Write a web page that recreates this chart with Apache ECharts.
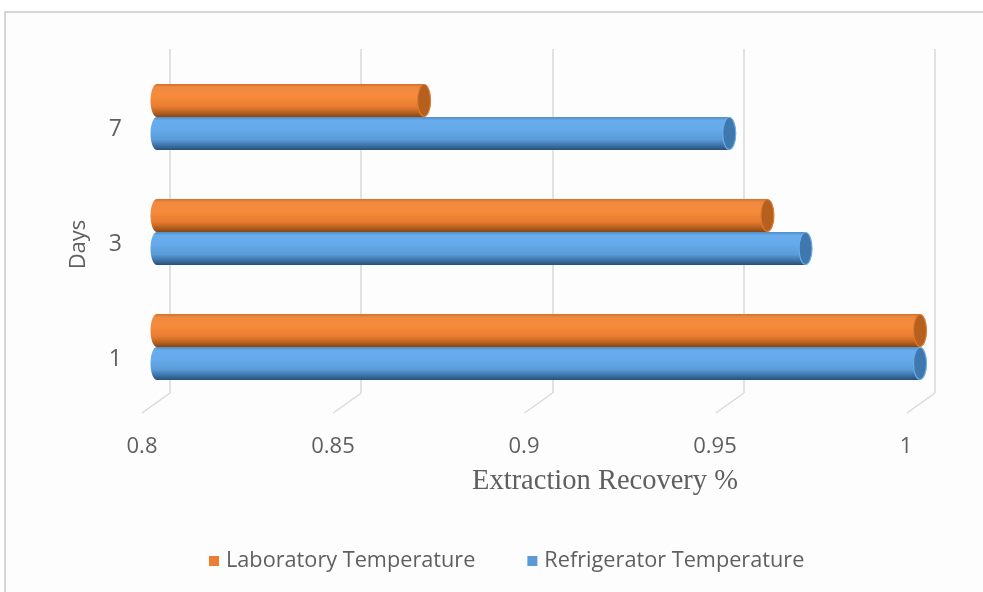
<!DOCTYPE html>
<html>
<head>
<meta charset="utf-8">
<script src="https://cdn.jsdelivr.net/npm/echarts@6/dist/echarts.min.js"></script>
<style>
  html, body { margin: 0; padding: 0; background: #ffffff; }
  #chart { width: 983px; height: 592px; }
</style>
</head>
<body>
<div id="chart"></div>
<script>
// Days after preparation (bottom to top on the vertical axis)
const categories = ['1', '3', '7'];
// Extraction recovery for each storage condition
const labTemp = [1.0, 0.96, 0.87];
const fridgeTemp = [1.0, 0.97, 0.95];
// Recovery axis ticks
const xTicks = [0.8, 0.85, 0.9, 0.95, 1.0];
const seriesNames = ['Laboratory Temperature', 'Refrigerator Temperature'];

const xMin = 0.8, xMax = 1.0, xStep = 0.05;
const textGray = '#5f5f5f';
const gridGray = '#d9d9d9';

const palettes = [
  { // orange
    base: '#ed7d31',
    body: [
      [0, '#d2702a'], [0.1, '#f08a40'], [0.38, '#f68b3b'],
      [0.68, '#e97c30'], [0.86, '#b8621f'], [1, '#874516']
    ],
    cap: '#b5601f', capEdge: '#e07a31'
  },
  { // blue
    base: '#5b9bd5',
    body: [
      [0, '#4f8cc4'], [0.1, '#68acec'], [0.38, '#65aaeb'],
      [0.68, '#5a9bd8'], [0.86, '#3d72a7'], [1, '#28507a']
    ],
    cap: '#3f78ae', capEdge: '#6aaee8'
  }
];

function gradient(stops) {
  return new echarts.graphic.LinearGradient(0, 0, 0, 1,
    stops.map(s => ({ offset: s[0], color: s[1] })));
}

// Cylinder-shaped horizontal bar; slot 0 sits above the band centre, slot 1 below
function cylinderRenderer(slot) {
  const pal = palettes[slot];
  return function (params, api) {
    const idx = api.value(1);
    const start = api.coord([xMin, idx]);
    const end = api.coord([api.value(0), idx]);
    const band = api.size([0, 1])[1];
    const h = band * 0.287;
    const top = start[1] - h + slot * h;
    const cy = top + h / 2;
    const rx = 6.5;
    const x0 = start[0], x1 = end[0];
    return {
      type: 'group',
      children: [
        { type: 'ellipse', shape: { cx: x0, cy: cy, rx: rx, ry: h / 2 },
          style: { fill: gradient(pal.body) } },
        { type: 'rect', shape: { x: x0, y: top, width: Math.max(0, x1 - x0), height: h },
          style: { fill: gradient(pal.body) } },
        { type: 'ellipse', shape: { cx: x1, cy: cy, rx: rx, ry: h / 2 - 0.5 },
          style: { fill: pal.cap, stroke: pal.capEdge, lineWidth: 1.2 } }
      ]
    };
  };
}

const chart = echarts.init(document.getElementById('chart'), null, { renderer: 'canvas' });

const option = {
  backgroundColor: '#ffffff',
  animation: false,
  graphic: [
    { type: 'rect', z: -10, silent: true,
      shape: { x: 5, y: 12, width: 1000, height: 600 },
      style: { fill: '#fdfdfd', stroke: '#d6d6d6', lineWidth: 2 } },
    { type: 'text', silent: true,
      style: {
        text: 'Extraction Recovery %',
        x: 605, y: 482,
        align: 'center', verticalAlign: 'middle',
        font: '28.5px "Liberation Serif", "Times New Roman", serif',
        fill: textGray
      }
    }
  ],
  legend: {
    data: seriesNames,
    left: 204,
    top: 545,
    itemWidth: 10,
    itemHeight: 10,
    itemGap: 52,
    icon: 'rect',
    textStyle: { color: textGray, fontSize: 21.7, fontFamily: 'Open Sans', padding: [0, 0, 0, 2] }
  },
  grid: [
    // back wall: gridlines
    { left: 170, right: 48, top: 49, bottom: 199 },
    // mid depth: bars
    { left: 157, right: 63, top: 59.5, bottom: 187.5 },
    // front edge: axis labels
    { left: 142, right: 77, top: 72, bottom: 175 }
  ],
  xAxis: [
    { gridIndex: 0, type: 'value', min: xMin, max: xMax, interval: xStep,
      axisLine: { show: false }, axisTick: { show: false }, axisLabel: { show: false },
      splitLine: { show: true, lineStyle: { color: gridGray, width: 1.5 } } },
    { gridIndex: 1, type: 'value', min: xMin, max: xMax, interval: xStep,
      axisLine: { show: false }, axisTick: { show: false }, axisLabel: { show: false },
      splitLine: { show: false } },
    { gridIndex: 2, type: 'value', min: xMin, max: xMax, interval: xStep,
      axisLine: { show: false }, axisTick: { show: false },
      splitLine: { show: false },
      axisLabel: {
        show: true, margin: 19, color: textGray, fontSize: 22, fontFamily: 'Open Sans',
        formatter: v => xTicks.find(t => Math.abs(t - v) < 1e-9) !== undefined ? String(+v.toFixed(2)) : ''
      } }
  ],
  yAxis: [
    { gridIndex: 0, type: 'value', min: 0, max: 1, show: false },
    { gridIndex: 1, type: 'category', data: categories, show: false },
    { gridIndex: 2, type: 'category', data: categories,
      axisLine: { show: false }, axisTick: { show: false },
      axisLabel: { margin: 20, color: textGray, fontSize: 23, fontFamily: 'Open Sans' },
      name: 'Days', nameLocation: 'middle', nameGap: 52, nameRotate: 90,
      nameTextStyle: { color: textGray, fontSize: 22, fontFamily: 'Open Sans' } }
  ],
  series: [
    { // slanted floor lines beneath each gridline
      type: 'custom', xAxisIndex: 0, yAxisIndex: 0, silent: true,
      data: xTicks.map(v => [v, 0]),
      renderItem: function (params, api) {
        const p = api.coord([api.value(0), 0]);
        return { type: 'line', shape: { x1: p[0], y1: p[1], x2: p[0] - 28, y2: p[1] + 20 },
                 style: { stroke: gridGray, lineWidth: 1.5 } };
      },
      z: 1
    },
    { name: seriesNames[0], type: 'custom', xAxisIndex: 1, yAxisIndex: 1,
      itemStyle: { color: palettes[0].base },
      data: labTemp.map((v, i) => [v, i]),
      encode: { x: 0, y: 1 },
      renderItem: cylinderRenderer(0), z: 3 },
    { name: seriesNames[1], type: 'custom', xAxisIndex: 1, yAxisIndex: 1,
      itemStyle: { color: palettes[1].base },
      data: fridgeTemp.map((v, i) => [v, i]),
      encode: { x: 0, y: 1 },
      renderItem: cylinderRenderer(1), z: 4 }
  ]
};

chart.setOption(option);
</script>
</body>
</html>
